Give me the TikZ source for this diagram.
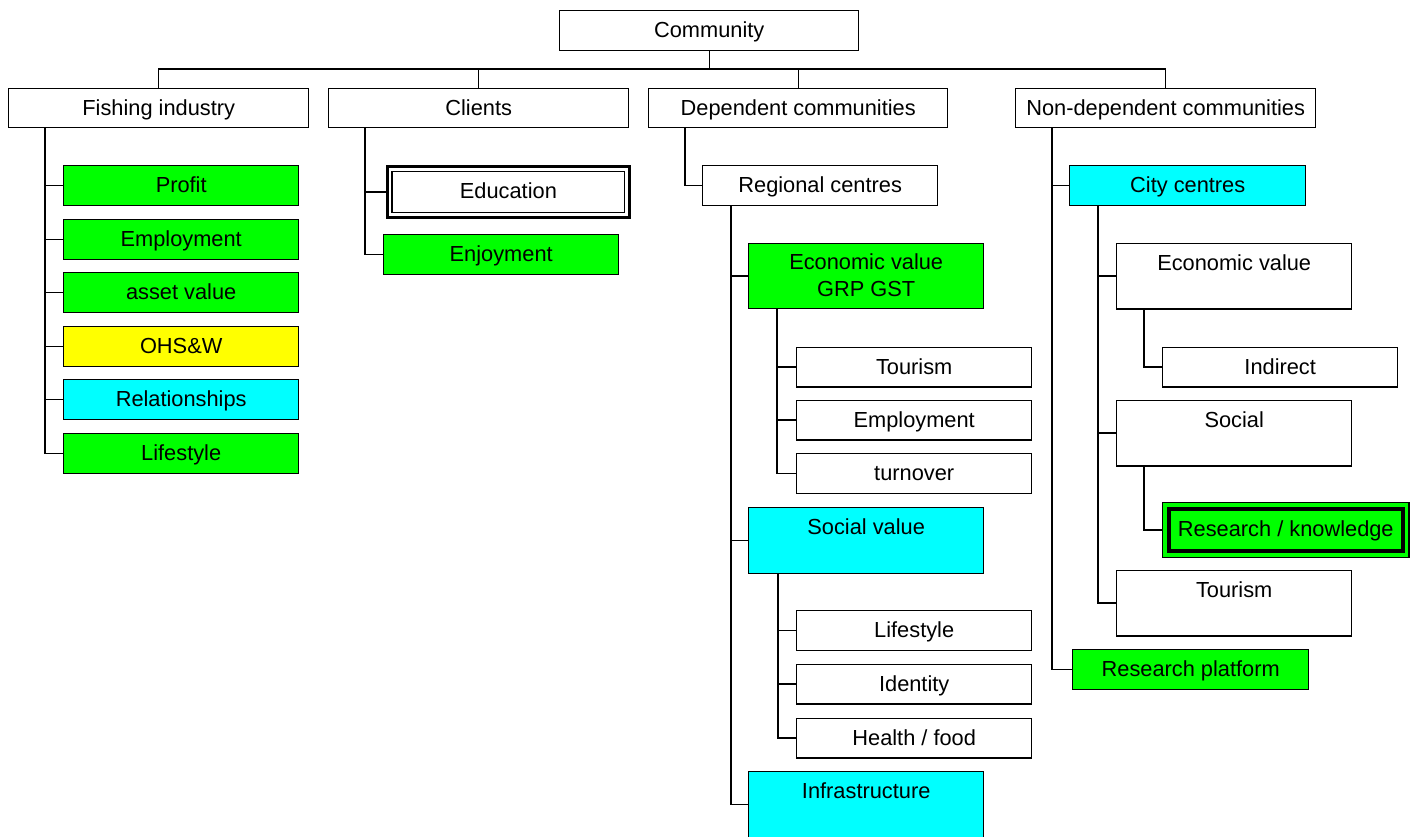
\documentclass[tikz,border=0pt]{standalone}
\usepackage{fontspec}
\setmainfont{Liberation Sans}
\definecolor{boxgreen}{HTML}{00FF00}
\definecolor{boxcyan}{HTML}{00FFFF}
\definecolor{boxyellow}{HTML}{FFFF00}
\begin{document}
\begin{tikzpicture}[x=1pt,y=-1pt,
  box/.style={draw=black, line width=1.4pt, inner sep=0pt, anchor=north west,
    minimum width=235pt, text height=27pt, text depth=12.6pt,
    font=\fontsize{21.8pt}{27pt}\selectfont},
  tall/.style={text depth=38.6pt},
  headbox/.style={box, minimum width=300pt, text depth=11.6pt},
  gbox/.style={fill=boxgreen},
  cbox/.style={fill=boxcyan},
  ybox/.style={fill=boxyellow},
  link/.style={draw=black, line width=1.4pt}]

\useasboundingbox (0,0) rectangle (1418,836);

% ---- top level ----
\node[box, minimum width=299pt] (com) at (559,10) {Community};
\node[headbox] (fish) at (8,88) {Fishing industry};
\node[headbox] (cli) at (328,88) {Clients};
\node[headbox, minimum width=299pt] (dep) at (648,88) {Dependent communities};
\node[headbox] (nd) at (1015,88) {Non-dependent communities};

\coordinate (bus) at (0,69);
\draw[link] (com.south) -- (com.south |- bus);
\draw[link] (fish.north) -- (fish.north |- bus) -- (nd.north |- bus) -- (nd.north);
\draw[link] (cli.north) -- (cli.north |- bus);
\draw[link] (dep.north) -- (dep.north |- bus);

% ---- fishing industry ----
\node[box,gbox] (profit) at (63,165) {Profit};
\node[box,gbox] (emp) at (63,219) {Employment};
\node[box,gbox] (asset) at (63,272) {asset value};
\node[box,ybox] (ohs) at (63,326) {OHS\&W};
\node[box,cbox] (rel) at (63,379) {Relationships};
\node[box,gbox] (life) at (63,433) {Lifestyle};
\foreach \k in {profit,emp,asset,ohs,rel,life}
  \draw[link] ([xshift=37pt]fish.south west) |- (\k.west);

% ---- clients ----
\node[box, line width=3.4pt, minimum width=242pt, text height=31.6pt, text depth=19pt]
  (edu) at (385.7,165) {Education};
\draw[line width=1.1pt] ([shift={(6.3pt,-6.2pt)}]edu.north west)
  rectangle ([shift={(-6.3pt,6.2pt)}]edu.south east);
\node[box,gbox] (enjoy) at (383,234) {Enjoyment};
\foreach \k in {edu,enjoy}
  \draw[link] ([xshift=37pt]cli.south west) |- (\k.west);

% ---- dependent communities ----
\node[box] (reg) at (702,165) {Regional centres};
\draw[link] ([xshift=37pt]dep.south west) |- (reg.west);

% two-line label: the node baseline sits on its last line
\node[box,gbox,align=center,text height=53pt,text depth=11.6pt]
  (ecod) at (748,243) {Economic value\\GRP GST};
\node[box,cbox,tall] (socd) at (748,507) {Social value};
\node[box,cbox,tall] (infra) at (748,771) {Infrastructure};
\foreach \k in {ecod,socd,infra}
  \draw[link] ([xshift=29pt]reg.south west) |- (\k.west);

\node[box] (tourd) at (796,346.5) {Tourism};
\node[box] (empd) at (796,399.5) {Employment};
\node[box] (turn) at (796,453) {turnover};
\foreach \k in {tourd,empd,turn}
  \draw[link] ([xshift=29pt]ecod.south west) |- (\k.west);

\node[box] (lifed) at (796,610) {Lifestyle};
\node[box] (iden) at (796,663.5) {Identity};
\node[box] (health) at (796,717.5) {Health / food};
\foreach \k in {lifed,iden,health}
  \draw[link] ([xshift=30pt]socd.south west) |- (\k.west);

% ---- non-dependent communities ----
\node[box,cbox,minimum width=236pt] (city) at (1069,165) {City centres};
\node[box,gbox,minimum width=236pt] (rplat) at (1072,649) {Research platform};
\foreach \k in {city,rplat}
  \draw[link] ([xshift=37pt]nd.south west) |- (\k.west);

\node[box,tall] (ecoc) at (1116,242.5) {Economic value};
\node[box,tall] (socc) at (1116,399.5) {Social};
\node[box,tall] (tourc) at (1116,569.5) {Tourism};
\foreach \k in {ecoc,socc,tourc}
  \draw[link] ([xshift=29pt]city.south west) |- (\k.west);

\node[box] (ind) at (1162,346.5) {Indirect};
\draw[link] ([xshift=28pt]ecoc.south west) |- (ind.west);

\node[box,gbox,line width=1.2pt,minimum width=246.4pt,text height=34.1pt,text depth=20.7pt]
  (rk) at (1162,502) {Research / knowledge};
\draw[line width=4pt] ([shift={(6.6pt,-6.6pt)}]rk.north west)
  rectangle ([shift={(-6.6pt,6.6pt)}]rk.south east);
\draw[link] ([xshift=28pt]socc.south west) |- (rk.west);

\end{tikzpicture}
\end{document}
